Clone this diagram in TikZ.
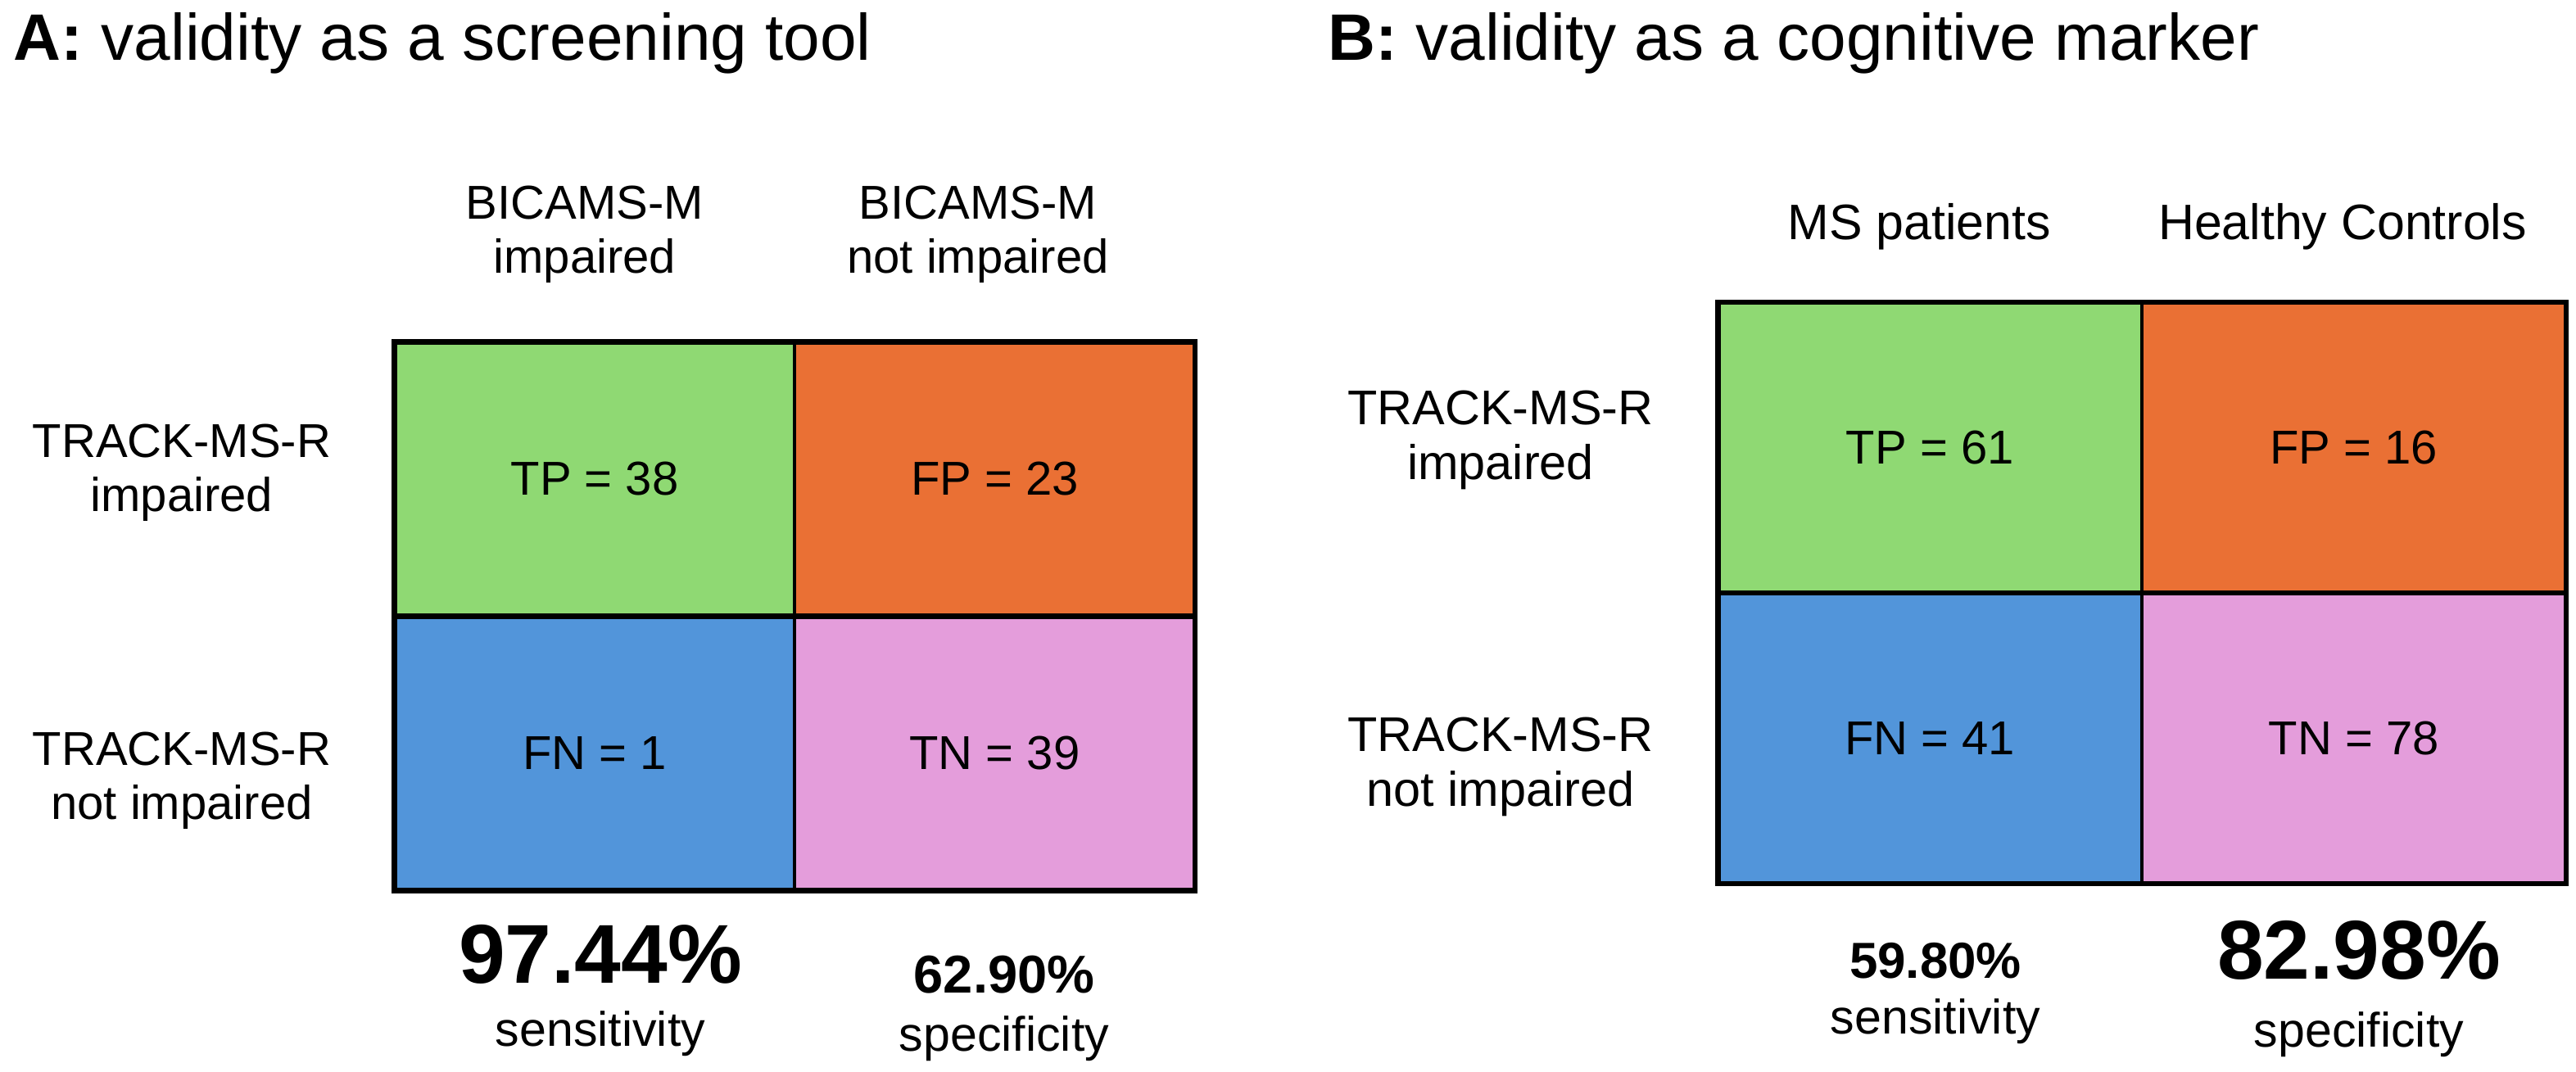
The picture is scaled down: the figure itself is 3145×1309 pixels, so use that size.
\documentclass[tikz,border=0pt]{standalone}
\usepackage{fontspec}
\setmainfont{Liberation Sans}
\definecolor{cgreen}{RGB}{143,217,115}
\definecolor{corange}{RGB}{234,112,52}
\definecolor{cblue}{RGB}{82,149,218}
\definecolor{cpink}{RGB}{228,157,219}
\tikzset{
  cellA/.style={draw=black, line width=1pt, inner sep=0pt, outer sep=0pt,
    minimum width=4.885cm, minimum height=3.35cm, font=\fontsize{16.5pt}{18pt}\selectfont},
  cellB/.style={draw=black, line width=1pt, inner sep=0pt, outer sep=0pt,
    minimum width=5.175cm, minimum height=3.55cm, font=\fontsize{16.5pt}{18pt}\selectfont},
  frame/.style={draw=black, line width=1.8pt},
  ttl/.style={inner sep=0pt, anchor=base west, font=\fontsize{22.8pt}{26pt}\selectfont},
  lblA/.style={inner sep=0pt, anchor=north, align=center, font=\fontsize{16.5pt}{18.8pt}\selectfont},
  lblB/.style={inner sep=0pt, anchor=north, align=center, font=\fontsize{16.9pt}{19.1pt}\selectfont},
  hdrB/.style={inner sep=0pt, anchor=base, font=\fontsize{17.3pt}{19pt}\selectfont},
  bigpct/.style={inner sep=0pt, anchor=base, font=\fontsize{29pt}{32pt}\selectfont\bfseries},
  smallpct/.style={inner sep=0pt, anchor=base, font=\fontsize{18.5pt}{20pt}\selectfont\bfseries},
  metric/.style={inner sep=0pt, anchor=base, font=\fontsize{16.8pt}{18pt}\selectfont}
}
\begin{document}
\begin{tikzpicture}[x=0.01cm, y=-0.01cm]
\useasboundingbox (0,0) rectangle (3145,1309);

% Titles
\node[ttl] (titleA) at (16,73) {\textbf{A:} validity as a screening tool};
\node[ttl] (titleB) at (1621,73) {\textbf{B:} validity as a cognitive marker};

% ---------- Panel A ----------
\node[lblA] (hA1) at (714,226) {BICAMS-M\\impaired};
\node[lblA] (hA2) at (1194,226) {BICAMS-M\\not impaired};
\node[lblA] (rA1) at (222,517) {TRACK-MS-R\\impaired};
\node[lblA] (rA2) at (222,893) {TRACK-MS-R\\not impaired};

\node[cellA, fill=cgreen] (TPA) at (726,585) {TP = 38};
\node[cellA, fill=corange] (FPA) at (1214.5,585) {FP = 23};
\node[cellA, fill=cblue] (FNA) at (726,920) {FN = 1};
\node[cellA, fill=cpink] (TNA) at (1214.5,920) {TN = 39};
\draw[frame] (TPA.north west) rectangle (TNA.south east);
\draw[frame] (TPA.south west) -- (FPA.south east);

\node[bigpct] (sensA) at (733,1200) {97.44\%};
\node[metric] (sensAl) at (733,1277) {sensitivity};
\node[smallpct] (specA) at (1226,1212) {62.90\%};
\node[metric] (specAl) at (1226,1283) {specificity};

% ---------- Panel B ----------
\node[hdrB] (hB1) at (2343,292) {MS patients};
\node[hdrB] (hB2) at (2860,292) {Healthy Controls};
\node[lblB] (rB1) at (1832,476) {TRACK-MS-R\\impaired};
\node[lblB] (rB2) at (1832,875) {TRACK-MS-R\\not impaired};

\node[cellB, fill=cgreen] (TPB) at (2356.25,546.5) {TP = 61};
\node[cellB, fill=corange] (FPB) at (2873.75,546.5) {FP = 16};
\node[cellB, fill=cblue] (FNB) at (2356.25,901.5) {FN = 41};
\node[cellB, fill=cpink] (TNB) at (2873.75,901.5) {TN = 78};
\draw[frame] (TPB.north west) rectangle (TNB.south east);
\draw[frame] (TPB.south west) -- (FPB.south east);

\node[smallpct, font=\fontsize{17.6pt}{19pt}\selectfont\bfseries] (sensB) at (2363,1194) {59.80\%};
\node[metric] (sensBl) at (2363,1262) {sensitivity};
\node[bigpct] (specB) at (2880,1195) {82.98\%};
\node[metric] (specBl) at (2880,1278) {specificity};
\end{tikzpicture}
\end{document}
